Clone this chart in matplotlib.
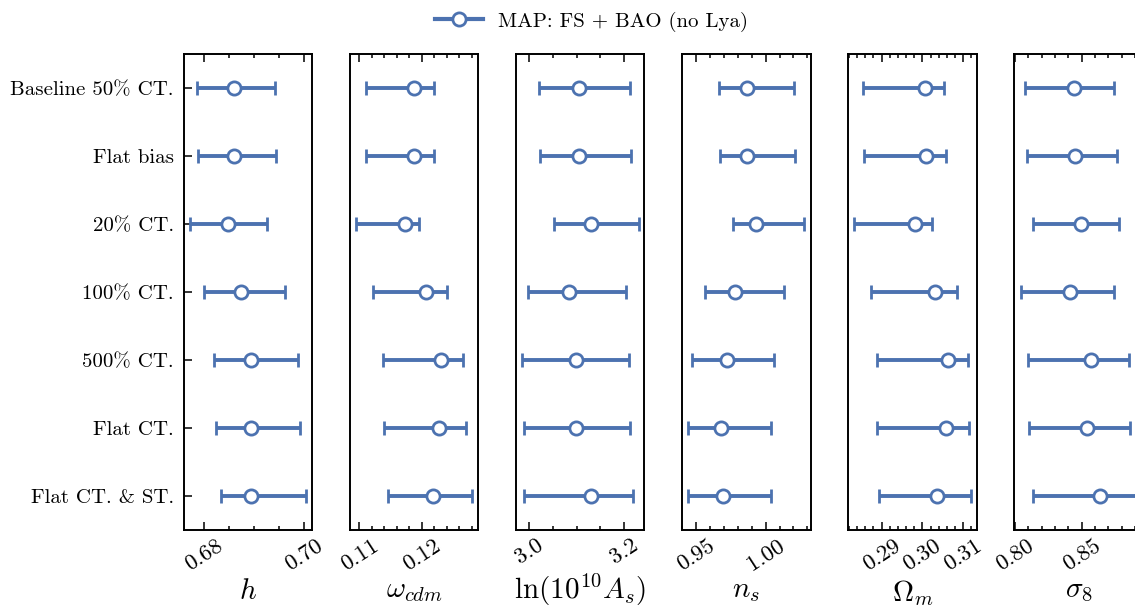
import matplotlib
matplotlib.use("Agg")
import matplotlib.pyplot as plt
from matplotlib.ticker import MultipleLocator, FormatStrFormatter
from matplotlib.lines import Line2D

plt.rcParams['font.family'] = 'serif'
plt.rcParams['font.serif'] = ['cmr10']
plt.rcParams['mathtext.fontset'] = 'cm'
plt.rcParams['axes.formatter.use_mathtext'] = True

# ---------------- data ----------------
labels = ["Baseline 50% CT.", "Flat bias", "20% CT.", "100% CT.",
          "500% CT.", "Flat CT.", "Flat CT. & ST."]

h_map = [0.6859, 0.6859, 0.6847, 0.6873, 0.6894, 0.6894, 0.6894]
h_lo = [0.6785, 0.6787, 0.6772, 0.6800, 0.6820, 0.6823, 0.6834]
h_hi = [0.6942, 0.6943, 0.6925, 0.6961, 0.6987, 0.6991, 0.7004]

wcdm_map = [0.1188, 0.1188, 0.1173, 0.1206, 0.1230, 0.1227, 0.1217]
wcdm_lo = [0.1110, 0.1111, 0.1095, 0.1121, 0.1137, 0.1140, 0.1145]
wcdm_hi = [0.1219, 0.1220, 0.1196, 0.1240, 0.1266, 0.1271, 0.1280]

lnAs_map = [3.104, 3.105, 3.129, 3.083, 3.099, 3.098, 3.130]
lnAs_lo = [3.020, 3.023, 3.051, 2.997, 2.985, 2.988, 2.988]
lnAs_hi = [3.212, 3.215, 3.231, 3.204, 3.210, 3.213, 3.219]

ns_map = [0.9867, 0.9869, 0.9929, 0.9779, 0.9724, 0.9681, 0.9695]
ns_lo = [0.9667, 0.9671, 0.9762, 0.9567, 0.9471, 0.9443, 0.9441]
ns_hi = [1.0202, 1.0210, 1.0279, 1.0129, 1.0060, 1.0038, 1.0038]

Om_map = [0.3006, 0.3008, 0.2983, 0.3031, 0.3063, 0.3057, 0.3036]
Om_lo = [0.2855, 0.2857, 0.2833, 0.2874, 0.2888, 0.2889, 0.2893]
Om_hi = [0.3053, 0.3057, 0.3023, 0.3085, 0.3111, 0.3114, 0.3119]

s8_map = [0.8443, 0.8450, 0.8493, 0.8410, 0.8570, 0.8540, 0.8640]
s8_lo = [0.8075, 0.8093, 0.8135, 0.8043, 0.8095, 0.8105, 0.8133]
s8_hi = [0.8745, 0.8763, 0.8780, 0.8745, 0.8855, 0.8863, 0.8945]

param_labels = [r'$h$', r'$\omega_{cdm}$', r'$\ln(10^{10}A_s)$', r'$n_s$',
                r'$\Omega_m$', r'$\sigma_8$']
legend_label = "MAP: FS + BAO (no Lya)"

# ---------------- styling / layout ----------------
series = [(h_map, h_lo, h_hi), (wcdm_map, wcdm_lo, wcdm_hi),
          (lnAs_map, lnAs_lo, lnAs_hi), (ns_map, ns_lo, ns_hi),
          (Om_map, Om_lo, Om_hi), (s8_map, s8_lo, s8_hi)]
xlims = [(0.6759, 0.7016), (0.10845, 0.12903), (2.9714, 3.2430),
         (0.9399, 1.0323), (0.2818, 0.3133), (0.7995, 0.8958)]
majors = [0.02, 0.01, 0.2, 0.05, 0.01, 0.05]
minors = [0.005, 0.002, 0.05, 0.01, 0.002, 0.01]
fmts = ['%.2f', '%.2f', '%.1f', '%.2f', '%.2f', '%.2f']

color = '#4C72B0'
W, H = 1135, 608
fig = plt.figure(figsize=(W / 100, H / 100), dpi=100)

ax_left0 = 183.7
ax_step = 166.12
ax_w = 128.5
ax_top = 54
ax_bot = 530
ax_h = ax_bot - ax_top

ypos = list(range(len(labels)))
for i, ((m, lo, hi), lab) in enumerate(zip(series, param_labels)):
    left = (ax_left0 + i * ax_step) / W
    ax = fig.add_axes([left, 1 - ax_bot / H, ax_w / W, ax_h / H])
    xerr = [[c - l for c, l in zip(m, lo)], [u - c for c, u in zip(m, hi)]]
    ax.errorbar(m, ypos, xerr=xerr, fmt='o', color=color, ecolor=color,
                elinewidth=2.8, capsize=5, capthick=2.4,
                markersize=9.5, markerfacecolor='white',
                markeredgecolor=color, markeredgewidth=2.0, zorder=3)
    ax.set_ylim(len(labels) - 0.5, -0.5)
    ax.set_xlim(*xlims[i])
    ax.xaxis.set_major_locator(MultipleLocator(majors[i]))
    ax.xaxis.set_minor_locator(MultipleLocator(minors[i]))
    ax.xaxis.set_major_formatter(FormatStrFormatter(fmts[i]))
    ax.tick_params(axis='x', which='both', direction='in', top=True,
                   bottom=True, width=1.1)
    ax.tick_params(axis='x', which='major', length=5.5, labelsize=16.5,
                   labelrotation=33, pad=4)
    ax.tick_params(axis='x', which='minor', length=3.2)
    for sp in ax.spines.values():
        sp.set_linewidth(1.4)
    if i == 0:
        ax.set_yticks(ypos)
        ax.set_yticklabels(labels)
        ax.tick_params(axis='y', which='major', direction='in', length=5.5,
                       width=1.1, labelsize=15, pad=7, right=False)
    else:
        ax.set_yticks([])
    ax.set_xlabel(lab, fontsize=21, labelpad=3)

handle = Line2D([], [], color=color, lw=3.0, marker='o', markersize=9.5,
                markerfacecolor='white', markeredgecolor=color,
                markeredgewidth=2.0)
fig.legend([handle], [legend_label], loc='center',
           bbox_to_anchor=(591.5 / W, 1 - 21.7 / H), frameon=False,
           fontsize=15, handlelength=2.3, handletextpad=0.75)

fig.savefig('out.png', dpi=100)
